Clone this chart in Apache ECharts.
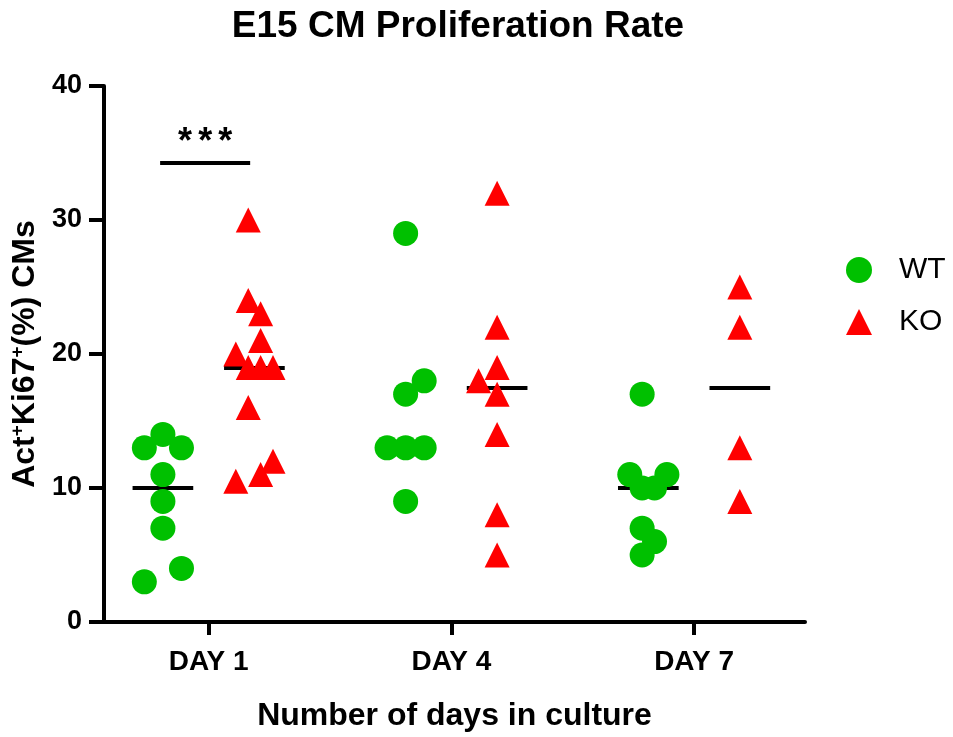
<!DOCTYPE html>
<html>
<head>
<meta charset="utf-8">
<script src="https://cdn.jsdelivr.net/npm/echarts@6/dist/echarts.min.js"></script>
<style>
  html, body { margin: 0; padding: 0; background: #fff; }
  #chart { width: 953px; height: 737px; }
</style>
</head>
<body>
<div id="chart"></div>
<script>
// categories and values
var categories = ['DAY 1', 'DAY 4', 'DAY 7'];
var yTicks = [0, 10, 20, 30, 40];

var wtDay1 = [14, 13, 13, 11, 9, 7, 4, 3];
var wtDay4 = [29, 18, 17, 13, 13, 13, 9];
var wtDay7 = [17, 11, 11, 10, 10, 7, 6, 5];
var koDay1 = [30, 24, 23, 21, 20, 19, 19, 19, 16, 12, 11, 10.5];
var koDay4 = [32, 22, 19, 18, 17, 14, 8, 5];
var koDay7 = [25, 22, 13, 9];

// horizontal scatter slot of each point (prism style jitter)
var wtSlot1 = [0, -3, 3, 0, 0, 0, 3, -3];
var wtSlot4 = [0, 3, 0, -3, 0, 3, 0];
var wtSlot7 = [-1, -3, 3, -1, 1, -1, 1, -1];
var koSlot1 = [-1, -1, 1, 1, -3, -1, 1, 3, -1, 3, 1, -3];
var koSlot4 = [0, 0, 0, -3, 0, 0, 0, 0];
var koSlot7 = [0, 0, 0, 0];

var sigValue = 34.25;

var GROUP_OFF = 0.1885; // WT left / KO right of the tick
var SLOT = 0.0255;
var HALF_MED = 0.125;

function median(arr) {
  var s = arr.slice().sort(function (a, b) { return a - b; });
  var n = s.length;
  return n % 2 ? s[(n - 1) / 2] : (s[n / 2 - 1] + s[n / 2]) / 2;
}

function points(groups, slots, side) {
  var out = [];
  groups.forEach(function (vals, gi) {
    vals.forEach(function (v, i) {
      out.push([gi + side * GROUP_OFF + slots[gi][i] * SLOT, v]);
    });
  });
  return out;
}

var wtGroups = [wtDay1, wtDay4, wtDay7];
var koGroups = [koDay1, koDay4, koDay7];

var FONT = 'Liberation Sans, Arial, sans-serif';

var medianLines = [];
wtGroups.forEach(function (vals, gi) {
  var c = gi - GROUP_OFF, m = median(vals);
  medianLines.push({ coords: [[c - HALF_MED, m], [c + HALF_MED, m]] });
});
koGroups.forEach(function (vals, gi) {
  var c = gi + GROUP_OFF, m = median(vals);
  medianLines.push({ coords: [[c - HALF_MED, m], [c + HALF_MED, m]] });
});
// significance bar between WT and KO on day 1
medianLines.push({
  coords: [[-0.2, sigValue], [0.171, sigValue]],
  label: {
    show: true,
    position: 'middle',
    formatter: '{s|*}{s|*}{s|*}',
    distance: 2,
    rich: {
      s: { fontSize: 36, fontWeight: 'bold', color: '#000', fontFamily: FONT, padding: [0, 3, 0, 3] }
    }
  }
});

var myChart = echarts.init(document.getElementById('chart'));
myChart.setOption({
  animation: false,
  backgroundColor: '#fff',
  title: {
    text: 'E15 CM Proliferation Rate',
    left: 453,
    textAlign: 'center',
    top: 3,
    textStyle: { fontSize: 37, fontWeight: 'bold', color: '#000', fontFamily: FONT }
  },
  legend: {
    orient: 'vertical',
    left: 841,
    top: 250,
    itemWidth: 26,
    itemHeight: 26,
    itemGap: 22,
    textStyle: { fontSize: 30, color: '#000', fontFamily: FONT, padding: [0, 0, 0, 22] },
    data: [
      { name: 'WT', icon: 'circle' },
      { name: 'KO', icon: 'triangle' }
    ]
  },
  grid: { left: 104, top: 86, width: 701, height: 540, containLabel: false },
  xAxis: {
    type: 'value',
    min: -0.4312,
    max: 2.457,
    name: 'Number of days in culture',
    nameLocation: 'middle',
    nameGap: 78,
    nameTextStyle: { fontSize: 32, fontWeight: 'bold', color: '#000', fontFamily: FONT },
    splitLine: { show: false },
    axisLine: { show: true, onZero: false, lineStyle: { color: '#000', width: 4 } },
    axisTick: {
      show: true,
      length: 13,
      customValues: [0, 1, 2],
      lineStyle: { color: '#000', width: 4 }
    },
    axisLabel: {
      customValues: [0, 1, 2],
      margin: 26,
      fontSize: 28,
      fontWeight: 'bold',
      color: '#000',
      fontFamily: FONT,
      formatter: function (v) { return categories[Math.round(v)]; }
    }
  },
  yAxis: {
    type: 'value',
    min: 0,
    max: 40,
    interval: 10,
    name: 'Act{sup|+}Ki67{sup|+}(%) CMs',
    nameLocation: 'middle',
    nameGap: 62,
    nameTextStyle: {
      fontSize: 32, fontWeight: 'bold', color: '#000', fontFamily: FONT,
      rich: {
        sup: { fontSize: 19, fontWeight: 'bold', color: '#000', fontFamily: FONT, verticalAlign: 'top', padding: [0, 0, 14, 0] }
      }
    },
    splitLine: { show: false },
    axisLine: { show: true, onZero: false, lineStyle: { color: '#000', width: 4 } },
    axisTick: { show: true, length: 15, lineStyle: { color: '#000', width: 4 } },
    axisLabel: {
      margin: 22,
      fontSize: 27,
      fontWeight: 'bold',
      color: '#000',
      fontFamily: FONT,
      formatter: function (v) { return yTicks.indexOf(v) >= 0 ? String(v) : ''; }
    }
  },
  series: [
    {
      name: 'medians',
      type: 'lines',
      coordinateSystem: 'cartesian2d',
      polyline: false,
      silent: true,
      z: 1,
      lineStyle: { color: '#000', width: 4, opacity: 1 },
      data: medianLines
    },
    {
      name: 'WT',
      type: 'scatter',
      symbol: 'circle',
      symbolSize: 25,
      z: 3,
      itemStyle: { color: '#00c000', opacity: 1 },
      data: points(wtGroups, [wtSlot1, wtSlot4, wtSlot7], -1)
    },
    {
      name: 'KO',
      type: 'scatter',
      symbol: 'triangle',
      symbolSize: 25,
      z: 3,
      itemStyle: { color: '#ff0000', opacity: 1 },
      data: points(koGroups, [koSlot1, koSlot4, koSlot7], 1)
    }
  ]
});
</script>
</body>
</html>
